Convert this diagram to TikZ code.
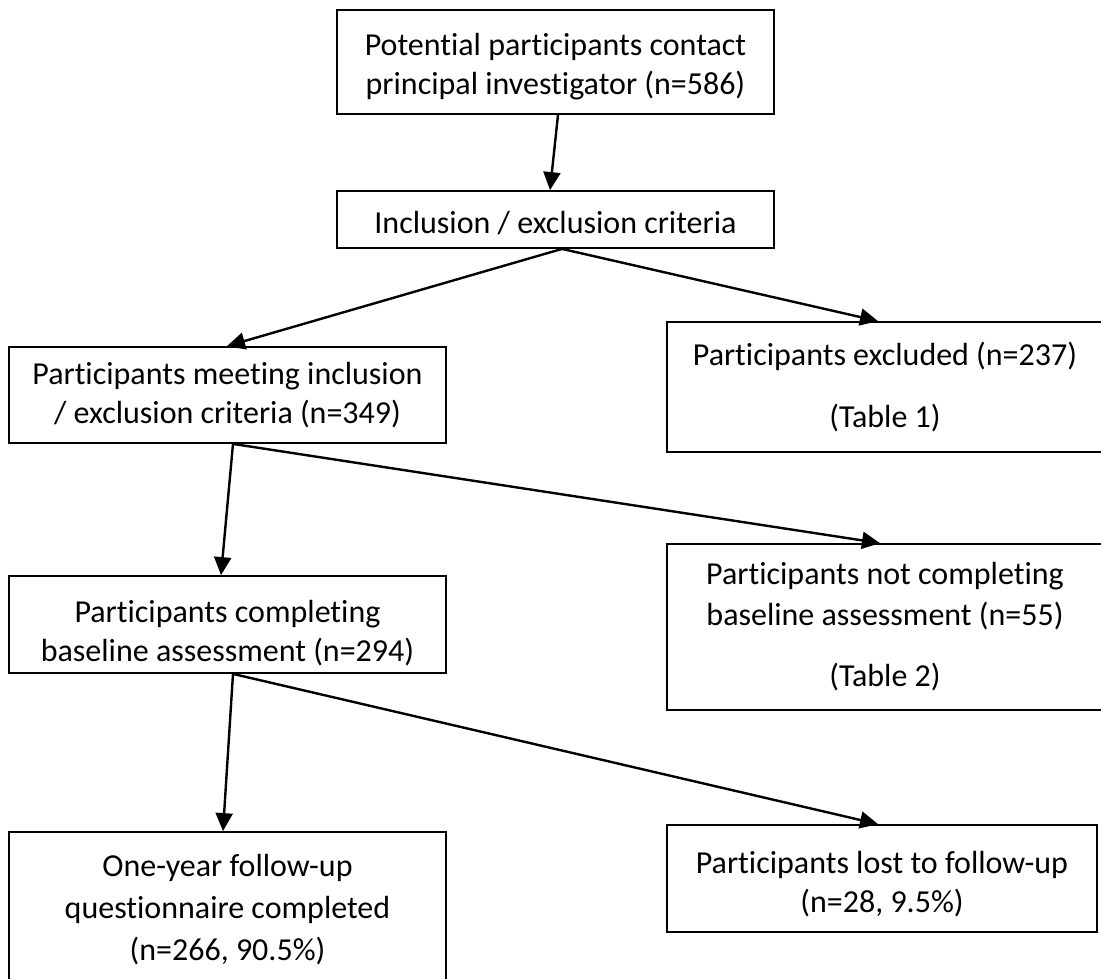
\documentclass[tikz,border=0pt]{standalone}
\usepackage{fontspec}
\setmainfont{Carlito}[Ligatures=NoCommon]
\usetikzlibrary{arrows.meta}
\begin{document}
\begin{tikzpicture}[x=1pt,y=-1pt,
  box/.style={draw, line width=1.8pt, rectangle, inner sep=0pt, align=center,
    font=\fontsize{32}{39}\selectfont},
  arr/.style={line width=2.4pt, -{Triangle[length=18pt,width=17pt]}}]
\useasboundingbox[fill=white] (0,0) rectangle (1101,978);
\begin{scope}
\clip (0,0) rectangle (1101,978);
\node[box, minimum width=437pt, minimum height=104pt] (b1) at (555.5,62)
  {\rule{0pt}{32pt}Potential participants contact\\principal investigator (n=586)};
\node[box, minimum width=437pt, minimum height=57pt] (b2) at (555.5,219.5)
  {\rule{0pt}{30pt}Inclusion / exclusion criteria};
\node[box, minimum width=437pt, minimum height=96pt] (b3) at (227.5,395)
  {Participants meeting inclusion\\/ exclusion criteria (n=349)};
\node[box, minimum width=436pt, minimum height=130pt] (b4) at (885,387)
  {Participants excluded (n=237)\\[23pt](Table 1)};
\node[box, minimum width=437pt, minimum height=97pt] (b5) at (227.5,624.5)
  {\rule{0pt}{40pt}Participants completing\\baseline assessment (n=294)};
\node[box, minimum width=436pt, minimum height=166pt] (b6) at (885,627)
  {Participants not completing\\[2pt]baseline assessment (n=55)\\[22pt](Table 2)};
\node[box, minimum width=437pt, minimum height=156pt] (b7) at (227.5,910)
  {One-year follow-up\\[3pt]questionnaire completed\\[3pt](n=266, 90.5\%)};
\node[box, minimum width=430pt, minimum height=107pt] (b8) at (882,878.5)
  {\rule{0pt}{33pt}Participants lost to follow-up\\(n=28, 9.5\%)};
\end{scope}
\draw[arr] ([xshift=2.5pt]b1.south) -- ([xshift=-5.5pt]b2.north);
\draw[arr] ([xshift=6.5pt]b2.south) -- ([xshift=-0.5pt]b3.north);
\draw[arr] ([xshift=6.5pt]b2.south) -- ([xshift=-7pt]b4.north);
\draw[arr] ([xshift=5.5pt]b3.south) -- ([xshift=-6.5pt]b5.north);
\draw[arr] ([xshift=5.5pt]b3.south) -- ([xshift=-5pt]b6.north);
\draw[arr] ([xshift=5.5pt]b5.south) -- ([xshift=-4.5pt]b7.north);
\draw[arr] ([xshift=5.5pt]b5.south) -- ([xshift=-4pt]b8.north);
\end{tikzpicture}
\end{document}
